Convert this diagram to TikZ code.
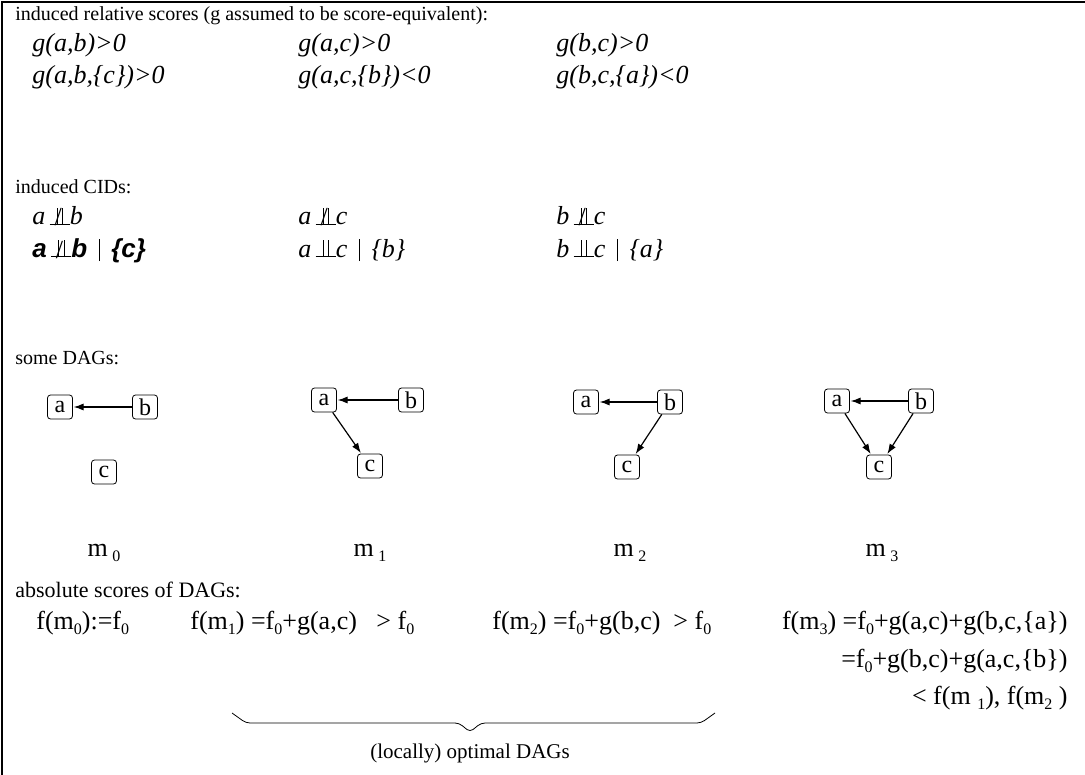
\documentclass[tikz,border=0pt]{standalone}
\usepackage{fontspec}
\setmainfont{Liberation Serif}
\newfontfamily\boldsans{Liberation Sans}
\usetikzlibrary{positioning,arrows.meta}

% independence symbols
\newcommand{\ciTack}{\mbox{\rlap{\rule{10pt}{0.45pt}}\hspace{3.6pt}\rule{0.45pt}{8.5pt}\hspace{2.2pt}\rule{0.45pt}{8.5pt}\hspace{3.35pt}}}
\newcommand{\nciTack}{\mbox{\rlap{\hspace{2.4pt}\raisebox{-0.5pt}{/}}\ciTack}}
\newcommand{\given}{\hspace{0.45em}\rule[-2pt]{0.4pt}{11pt}\hspace{0.45em}}
\newcommand{\lo}[1]{\raisebox{-0.5ex}{\footnotesize #1}}
\newcommand{\bsi}[1]{{\boldsans\bfseries\itshape #1}}

\begin{document}
\begin{tikzpicture}[
  x=0.5pt, y=-0.5pt,
  every node/.style={inner sep=0pt, font=\fontsize{10}{12}\selectfont},
  txt/.style={anchor=base west},
  rtxt/.style={anchor=base east},
  big/.style={font=\fontsize{13}{15}\selectfont},
  var/.style={draw, rounded corners=1.5pt, minimum width=12.5pt, minimum height=12pt, inner sep=1pt, thin, font=\fontsize{12}{14}\selectfont},
  edge/.style={-{Latex[length=5pt,width=3.6pt]}, semithick, shorten >=0.4pt},
  lbl/.style={anchor=base, big}
]
\useasboundingbox (0,0) rectangle (1085,775);
\draw[line width=1.3pt] (2,775) -- (2,2) -- (1085,2);

% relative scores
\node[txt] (hdrRel) at (15,21) {induced relative scores (g assumed to be score-equivalent):};
\node[txt, big] (gab)  at (32,52)  {\textit{g(a,b)>0}};
\node[txt, big] (gac)  at (298,52) {\textit{g(a,c)>0}};
\node[txt, big] (gbc)  at (556,52) {\textit{g(b,c)>0}};
\node[txt, big] (gabc) at (32,84)  {\textit{g(a,b,\{c\})>0}};
\node[txt, big] (gacb) at (298,84) {\textit{g(a,c,\{b\})<0}};
\node[txt, big] (gbca) at (556,84) {\textit{g(b,c,\{a\})<0}};

% CIDs
\node[txt] (hdrCid) at (15,193) {induced CIDs:};
\node[txt, big] (ciab)  at (32,225)  {\textit{a}\,\nciTack\textit{b}};
\node[txt, big] (ciac)  at (298,225) {\textit{a}\,\nciTack\textit{c}};
\node[txt, big] (cibc)  at (556,225) {\textit{b}\,\nciTack\textit{c}};
\node[txt, big] (ciabc) at (32,257)  {\bsi{a}\,\nciTack\bsi{b}\given\bsi{\{c\}}};
\node[txt, big] (ciacb) at (298,257) {\textit{a}\,\ciTack\textit{c}\given\textit{\{b\}}};
\node[txt, big] (cibca) at (556,257) {\textit{b}\,\ciTack\textit{c}\given\textit{\{a\}}};

% DAGs
\node[txt] (hdrDag) at (15,364) {some DAGs:};

\node[var] (a0) at (60,407) {a};
\node[var] (b0) at (145,407) {b};
\node[var] (c0) at (104,472) {c};
\draw[edge] (b0) -- (a0);
\node[lbl] (m0) at (104,556) {m\,\lo{0}};

\node[var] (a1) at (324,400) {a};
\node[var] (b1) at (411,400) {b};
\node[var] (c1) at (370,466) {c};
\draw[edge] (b1) -- (a1);
\draw[edge] (a1) -- (c1);
\node[lbl] (m1) at (370,556) {m\,\lo{1}};

\node[var] (a2) at (586,402) {a};
\node[var] (b2) at (670,402) {b};
\node[var] (c2) at (627,467) {c};
\draw[edge] (b2) -- (a2);
\draw[edge] (b2) -- (c2);
\node[lbl] (m2) at (630,556) {m\,\lo{2}};

\node[var] (a3) at (837,401) {a};
\node[var] (b3) at (921,401) {b};
\node[var] (c3) at (879,467) {c};
\draw[edge] (b3) -- (a3);
\draw[edge] (a3) -- (c3);
\draw[edge] (b3) -- (c3);
\node[lbl] (m3) at (882,556) {m\,\lo{3}};

% absolute scores
\node[txt, font=\fontsize{11}{13}\selectfont] (hdrAbs) at (15,597) {absolute scores of DAGs:};
\node[txt, big] (fm0) at (36,629)  {f(m\lo{0}):=f\lo{0}};
\node[txt, big] (fm1) at (190,629) {f(m\lo{1}) =f\lo{0}+g(a,c) \ \ > f\lo{0}};
\node[txt, big] (fm2) at (492,629) {f(m\lo{2}) =f\lo{0}+g(b,c) \ > f\lo{0}};
\node[rtxt, big] (fm3a) at (1068,629) {f(m\lo{3}) =f\lo{0}+g(a,c)+g(b,c,\{a\})};
\node[rtxt, big] (fm3b) at (1068,667) {=f\lo{0}+g(b,c)+g(a,c,\{b\})};
\node[rtxt, big] (fm3c) at (1068,704) {< f(m \lo{1}), f(m\lo{2} )};

% brace
\draw[rounded corners=2pt] (232,713) -- (246,723) -- (459,723) -- (470,732) -- (481,723) -- (701,723) -- (715,713);
\node[lbl, font=\fontsize{10.5}{12}\selectfont] (opt) at (470,758) {(locally) optimal DAGs};
\end{tikzpicture}
\end{document}
